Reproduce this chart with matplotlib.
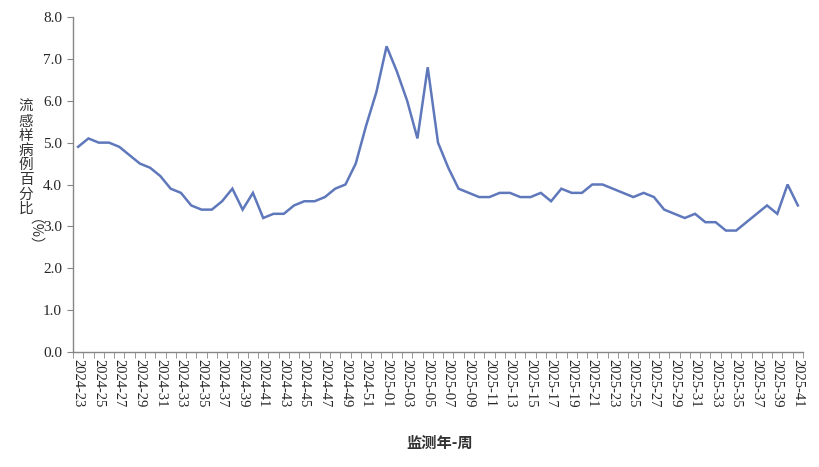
import matplotlib
matplotlib.use("Agg")
import matplotlib.pyplot as plt
import numpy as np

serif_name = "Liberation Serif"
plt.rcParams["font.family"] = [serif_name, "Noto Sans CJK SC", "DejaVu Sans"]

weeks_2024 = [f"2024-{w:02d}" for w in range(23, 53)]
weeks_2025 = [f"2025-{w:02d}" for w in range(1, 42)]
categories = weeks_2024 + weeks_2025

values_2024 = [4.9, 5.1, 5.0, 5.0, 4.9, 4.7, 4.5, 4.4, 4.2, 3.9,
               3.8, 3.5, 3.4, 3.4, 3.6, 3.9, 3.4, 3.8, 3.2, 3.3,
               3.3, 3.5, 3.6, 3.6, 3.7, 3.9, 4.0, 4.5, 5.4, 6.2]
values_2025 = [7.3, 6.7, 6.0, 5.1, 6.8, 5.0, 4.4, 3.9, 3.8, 3.7,
               3.7, 3.8, 3.8, 3.7, 3.7, 3.8, 3.6, 3.9, 3.8, 3.8,
               4.0, 4.0, 3.9, 3.8, 3.7, 3.8, 3.7, 3.4, 3.3, 3.2,
               3.3, 3.1, 3.1, 2.9, 2.9, 3.1, 3.3, 3.5, 3.3, 4.0,
               3.5]
values = values_2024 + values_2025

y_ticks = [0.0, 1.0, 2.0, 3.0, 4.0, 5.0, 6.0, 7.0, 8.0]

fig = plt.figure(figsize=(8.2, 4.67), dpi=100)
W, H = 820, 467
left, right, top, bottom = 73, 803, 17, 352
ax = fig.add_axes([left / W, 1 - bottom / H, (right - left) / W, (bottom - top) / H])

x = np.arange(len(categories))
ax.plot(x, values, color="#5f78bb", linewidth=1.8, solid_joinstyle="miter")

ax.set_xlim(-0.5, len(categories) - 0.5)
ax.set_ylim(0, 8)

ax.tick_params(axis="y", direction="out", length=4, color="#868686", pad=4,
               labelsize=11, labelcolor="#262626")
ax.set_yticks(y_ticks)
ax.set_yticklabels([f"{v:.1f}" for v in y_ticks], family=serif_name)

ax.tick_params(axis="x", which="major", length=0, pad=5, labelsize=10.5, labelcolor="#262626")
ax.tick_params(axis="x", which="minor", direction="out", length=4, color="#868686")
ax.set_xticks(x[::2])
ax.set_xticklabels(categories[::2], rotation=270, ha="center", va="top", family=serif_name)
ax.set_xticks(np.arange(-0.5, len(categories), 1), minor=True)

for s in ["top", "right"]:
    ax.spines[s].set_visible(False)
for s in ["left", "bottom"]:
    ax.spines[s].set_color("#868686")
    ax.spines[s].set_linewidth(1.0)

cjk = ["Noto Sans CJK SC", "DejaVu Sans"]
ylabel_chars = "流感样病例百分比"
fig.text(26 / W, 1 - 158 / H, "\n".join(ylabel_chars), family=cjk, fontsize=10.5,
         ha="center", va="center", linespacing=1.05, color="#333333")
fig.text(26 / W, 1 - 240 / H, "（%）", family=cjk, fontsize=10.5, rotation=270,
         ha="center", va="center", color="#333333")

fig.text(440 / W, 1 - 443 / H, "监测年-周", family=cjk, fontsize=11, fontweight="bold",
         ha="center", va="center", color="#333333")

fig.savefig("out.png", dpi=100)
